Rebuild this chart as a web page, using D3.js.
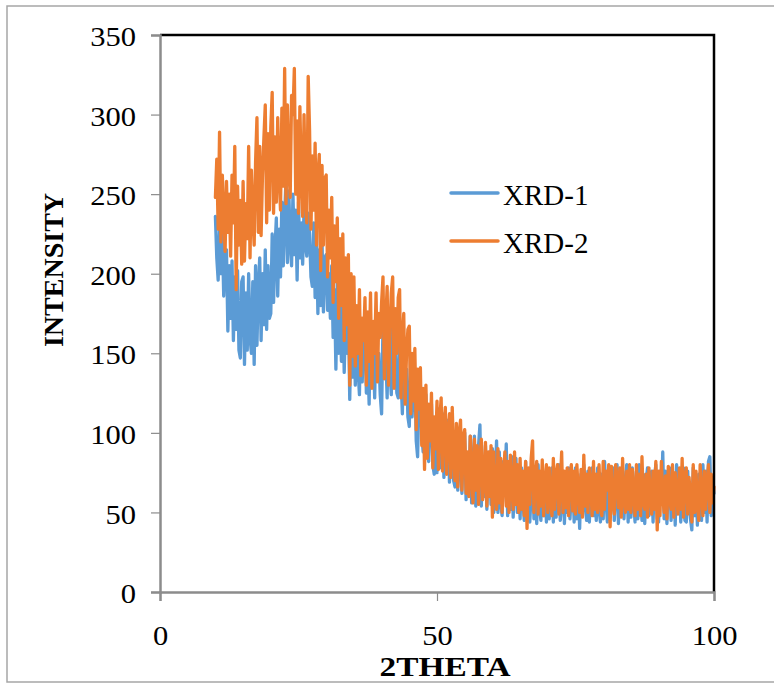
<!DOCTYPE html>
<html>
<head>
<meta charset="utf-8">
<script src="https://cdn.jsdelivr.net/npm/d3@7"></script>
<style>
  html, body { margin: 0; padding: 0; background: #ffffff; }
  svg { display: block; }
  text { font-family: "Liberation Serif", "Times New Roman", serif; fill: #000; }
</style>
</head>
<body>
<svg id="chart" width="774" height="683"></svg>
<script>
// Scan grid: 2θ from 10° to 100° in 0.25° steps
const thetaStart = 10;
const thetaStep = 0.25;

// XRD-1 intensities (counts), one row per 5° of 2θ
const xrd1 = [
  236, 210, 196, 228, 200, 225, 186, 212, 215, 164, 205, 172, 208, 158, 198, 165, 202, 152, 147, 195,
  198, 143, 188, 152, 200, 160, 150, 195, 143, 205, 155, 192, 210, 158, 200, 168, 215, 165, 205, 172,
  175, 225, 182, 215, 235, 186, 228, 198, 245, 205, 236, 260, 207, 252, 220, 205, 250, 212, 240, 196,
  245, 210, 232, 206, 240, 218, 211, 238, 225, 198, 192, 232, 185, 228, 175, 215, 180, 220, 176, 210,
  212, 177, 200, 172, 205, 160, 190, 140, 195, 150, 182, 145, 188, 138, 175, 150, 182, 121, 170, 135,
  175, 130, 160, 140, 124, 170, 132, 158, 168, 125, 150, 118, 168, 130, 155, 122, 168, 135, 150, 124,
  112, 168, 135, 150, 122, 170, 140, 124, 168, 130, 152, 125, 122, 162, 135, 112, 155, 120, 140, 110,
  104, 148, 110, 130, 138, 95, 85, 125, 130, 100, 88, 120, 124, 90, 82, 112, 118, 80, 74, 105,
  75, 115, 90, 78, 112, 72, 100, 85, 108, 69, 95, 104, 70, 66, 98, 64, 102, 80, 62, 96,
  100, 58, 86, 62, 98, 56, 80, 98, 54, 70, 92, 105, 54, 84, 60, 92, 52, 78, 88, 55,
  90, 50, 68, 95, 50, 88, 56, 48, 82, 62, 93, 48, 80, 52, 85, 47, 70, 84, 50, 78,
  46, 78, 58, 45, 82, 48, 74, 44, 62, 78, 46, 72, 43, 80, 54, 45, 76, 48, 70, 44,
  76, 46, 60, 78, 44, 74, 47, 68, 80, 45, 56, 76, 43, 72, 50, 78, 46, 62, 74, 44,
  78, 46, 70, 40, 74, 48, 80, 56, 45, 76, 44, 66, 78, 48, 72, 45, 78, 52, 44, 74,
  46, 82, 58, 44, 76, 47, 70, 78, 45, 62, 80, 43, 74, 50, 76, 46, 68, 80, 44, 72,
  47, 78, 56, 44, 76, 46, 80, 62, 45, 74, 43, 70, 78, 48, 60, 76, 44, 72, 80, 46,
  44, 76, 58, 88, 46, 76, 43, 70, 78, 45, 62, 74, 42, 80, 50, 76, 44, 68, 78, 45,
  44, 76, 56, 46, 39, 78, 48, 72, 42, 74, 60, 45, 80, 50, 76, 44, 82, 85, 48, 70, 62
];

// XRD-2 intensities (counts), one row per 5° of 2θ
const xrd2 = [
  248, 272, 228, 289, 220, 262, 238, 214, 258, 226, 250, 211, 262, 232, 280, 190, 255, 218, 246, 206,
  258, 208, 244, 222, 280, 210, 265, 236, 218, 270, 298, 226, 280, 224, 262, 285, 306, 232, 288, 240,
  292, 314, 238, 286, 245, 298, 262, 240, 304, 255, 329, 244, 306, 268, 248, 312, 300, 329, 250, 296,
  238, 305, 262, 236, 300, 248, 232, 324, 290, 228, 274, 240, 282, 218, 262, 275, 202, 268, 218, 260,
  262, 198, 240, 210, 248, 182, 230, 195, 235, 172, 222, 180, 225, 158, 210, 168, 212, 130, 200, 148,
  198, 142, 180, 150, 190, 136, 172, 158, 185, 130, 176, 145, 188, 128, 170, 150, 188, 132, 175, 160,
  182, 198, 134, 170, 192, 130, 165, 188, 198, 128, 178, 150, 185, 190, 122, 160, 175, 118, 150, 165,
  167, 112, 150, 120, 153, 102, 140, 115, 141, 92, 128, 77, 130, 84, 118, 95, 125, 78, 110, 90,
  120, 77, 108, 122, 76, 104, 116, 74, 98, 112, 72, 116, 86, 70, 106, 66, 100, 108, 64, 98,
  102, 62, 88, 60, 98, 74, 56, 96, 64, 92, 55, 84, 96, 58, 70, 94, 54, 88, 60, 92,
  47, 88, 62, 52, 90, 56, 84, 50, 72, 88, 54, 82, 50, 86, 66, 52, 88, 55, 80, 50,
  84, 52, 76, 48, 82, 40, 78, 55, 84, 95, 50, 72, 82, 49, 76, 54, 83, 48, 70, 80,
  50, 78, 58, 48, 84, 52, 74, 80, 49, 66, 88, 50, 76, 53, 78, 48, 72, 80, 51, 76,
  49, 80, 62, 50, 77, 47, 86, 54, 74, 50, 78, 68, 48, 82, 52, 74, 50, 80, 56, 48,
  82, 52, 76, 64, 80, 41, 79, 56, 49, 80, 72, 53, 78, 47, 84, 58, 50, 76, 52, 80,
  50, 77, 62, 48, 80, 52, 74, 48, 85, 56, 52, 74, 47, 78, 60, 49, 76, 52, 82, 39,
  76, 48, 82, 60, 50, 73, 46, 79, 58, 52, 80, 47, 75, 62, 49, 78, 52, 84, 47, 72,
  78, 49, 72, 58, 44, 80, 50, 76, 55, 45, 80, 62, 48, 76, 52, 70, 80, 50, 74, 56, 66
];

const seriesNames = ["XRD-1", "XRD-2"];
const seriesColors = ["#5B9BD5", "#ED7D31"];
const xTicks = [0, 50, 100];
const yTicks = [0, 50, 100, 150, 200, 250, 300, 350];
const xTitle = "2THETA";
const yTitle = "INTENSITY";

const svg = d3.select("#chart");

// Widen glyphs slightly (the serif face here runs a little narrow)
function widen(sel, k) {
  sel.each(function () {
    const w = this.getComputedTextLength();
    d3.select(this).attr("textLength", w * k).attr("lengthAdjust", "spacingAndGlyphs");
  });
}

// Outer chart frame
svg.append("rect")
  .attr("x", 7).attr("y", 6)
  .attr("width", 790).attr("height", 676)
  .attr("fill", "#fff")
  .attr("stroke", "#a6a6a6")
  .attr("stroke-width", 1.5);

const plot = { left: 160, right: 714, top: 35, bottom: 592 };

const x = d3.scaleLinear().domain([0, 100]).range([plot.left, plot.right]);
const y = d3.scaleLinear().domain([0, 350]).range([plot.bottom, plot.top]);

// Series lines
const toPoints = arr => arr.map((v, i) => [thetaStart + i * thetaStep, v]);
const line = d3.line().x(d => x(d[0])).y(d => y(d[1]));

const g = svg.append("g");
[xrd1, xrd2].forEach((arr, k) => {
  g.append("path")
    .datum(toPoints(arr))
    .attr("d", line)
    .attr("fill", "none")
    .attr("stroke", seriesColors[k])
    .attr("stroke-width", 3.3)
    .attr("stroke-linejoin", "round")
    .attr("stroke-linecap", "round");
});

// Plot-area frame (top and right)
svg.append("path")
  .attr("d", `M${plot.left},${plot.top}H${plot.right}V${plot.bottom}`)
  .attr("fill", "none")
  .attr("stroke", "#000")
  .attr("stroke-width", 2.5);

// Y axis
const yAxis = svg.append("g")
  .attr("transform", `translate(${plot.left},0)`)
  .call(d3.axisLeft(y).tickValues(yTicks).tickSize(9).tickPadding(15).tickFormat(d3.format("d")));
yAxis.select(".domain").attr("stroke", "#8c8c8c").attr("stroke-width", 2.5);
yAxis.selectAll(".tick line").attr("stroke", "#8c8c8c").attr("stroke-width", 1.2);
yAxis.selectAll(".tick text")
  .style("font-family", "'Liberation Serif', 'Times New Roman', serif")
  .style("font-size", "28px")
  .attr("fill", "#000")
  .attr("dy", "0.38em")
  .call(widen, 1.09);

// X axis
const xAxis = svg.append("g")
  .attr("transform", `translate(0,${plot.bottom})`)
  .call(d3.axisBottom(x).tickValues(xTicks).tickSize(9).tickPadding(0).tickFormat(d3.format("d")));
xAxis.select(".domain").attr("stroke", "#8c8c8c").attr("stroke-width", 2.5);
xAxis.selectAll(".tick line").attr("stroke", "#8c8c8c").attr("stroke-width", 1.2);
xAxis.selectAll(".tick text")
  .style("font-family", "'Liberation Serif', 'Times New Roman', serif")
  .style("font-size", "28px")
  .attr("fill", "#000")
  .attr("y", 53)
  .attr("dy", null)
  .call(widen, 1.09);

// Axis titles
svg.append("text")
  .attr("x", 445)
  .attr("y", 676)
  .attr("text-anchor", "middle")
  .style("font-size", "27px")
  .style("font-weight", "bold")
  .text(xTitle)
  .attr("textLength", 131)
  .attr("lengthAdjust", "spacingAndGlyphs");

svg.append("text")
  .attr("transform", `translate(63,270) rotate(-90)`)
  .attr("text-anchor", "middle")
  .style("font-size", "28px")
  .style("font-weight", "bold")
  .text(yTitle);

// Legend
const legend = svg.append("g");
seriesNames.forEach((name, k) => {
  const ly = 193 + k * 48;
  legend.append("line")
    .attr("x1", 451).attr("x2", 498)
    .attr("y1", ly).attr("y2", ly)
    .attr("stroke", seriesColors[k])
    .attr("stroke-width", 3.5)
    .attr("stroke-linecap", "round");
  legend.append("text")
    .attr("x", 503).attr("y", ly + 12)
    .style("font-size", "29px")
    .text(name);
});
</script>
</body>
</html>
